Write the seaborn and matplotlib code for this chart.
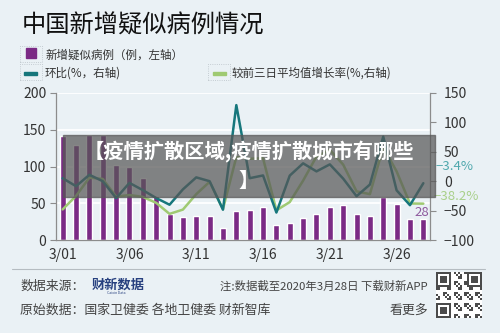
import numpy as np
import pandas as pd
import seaborn as sns
import matplotlib.pyplot as plt
from matplotlib.patches import Rectangle

# data (3/01 - 3/28)
days = ['3/%02d' % d for d in range(1, 29)]
suspected = [141, 129, 143, 143, 102, 99, 84, 60, 36, 31, 33, 33, 17, 39,
             41, 45, 21, 23, 30, 35, 45, 47, 35, 33, 58, 49, 29, 28]
ring_pct = [5, -8.5, 10.9, 0, -28.7, -2.9, -15.2, -28.6, -40, -13.9, 6.5, 0, -48.5, 129.4,
            5.1, 9.8, -53.3, 9.5, 30.4, 16.7, 28.6, 4.4, -25.5, -5.7, 75.8, -15.5, -40.8, -3.4]
avg3_pct = [-48, -25, 6, 3.9, -26.3, -23.5, -26.7, -36.8, -55.6, -48.3, -22, -1, -47.4, 41,
            38.2, 39, -49.6, -35.5, 1, 41.9, 53.4, 28.2, -17.3, -22, 58, 16.7, -37.9, -38.2]
tick_labels = ['3/01', '3/06', '3/11', '3/16', '3/21', '3/26']

bg = '#eaf1f5'
purple = '#7b2a85'
teal = '#17777c'
green = '#9fca72'
axis_grey = '#8c8c8c'

sns.set_style('white')
plt.rcParams['font.family'] = ['Noto Sans CJK SC', 'DejaVu Sans']

df = pd.DataFrame({'day': days, 'pos': range(len(days)), 'suspected': suspected,
                   'ring': ring_pct, 'avg3': avg3_pct})

fig = plt.figure(figsize=(5, 3.33), dpi=100, facecolor=bg)
ax = fig.add_axes([56 / 500, 1 - 240 / 333, 374 / 500, 147 / 333])
ax.set_facecolor(bg)

sns.barplot(data=df, x='day', y='suspected', color=purple, width=0.45,
            saturation=1, ax=ax, zorder=2)
ax.set_ylim(0, 200)
ax.set_xlim(-0.5, len(days) - 0.5)
ax.set_yticks([0, 50, 100, 150, 200])
ax.yaxis.grid(True, color='white', lw=1.3, zorder=0)
ax.set_axisbelow(True)
ax.set_xlabel('')
ax.set_ylabel('')

# labels centred on the bars, tick marks on the day boundaries
ax.set_xticks([0, 5, 10, 15, 20, 25])
ax.set_xticklabels(tick_labels)
ax.set_xticks([-0.5, 4.5, 9.5, 14.5, 19.5, 24.5], minor=True)
ax.tick_params(axis='x', which='major', length=0, pad=6, labelsize=10, labelcolor='#333333')
ax.tick_params(axis='x', which='minor', length=4, color=axis_grey, direction='out')
ax.tick_params(axis='y', length=4, color=axis_grey, labelsize=10, labelcolor='#333333', pad=3)
for s in ['top', 'right']:
    ax.spines[s].set_visible(False)
for s in ['left', 'bottom']:
    ax.spines[s].set_color(axis_grey)
    ax.spines[s].set_linewidth(0.9)

ax2 = ax.twinx()
sns.lineplot(data=df, x='pos', y='avg3', color=green, lw=1.8, ax=ax2)
sns.lineplot(data=df, x='pos', y='ring', color=teal, lw=1.8, ax=ax2)
ax2.set_ylim(-100, 150)
ax2.set_yticks([-100, -50, 0, 50, 100, 150])
ax2.set_yticklabels(['\u2212100', '\u221250', '0', '50', '100', '150'])
ax2.set_xlim(-0.5, len(days) - 0.5)
ax2.set_ylabel('')
ax2.set_xlabel('')
ax2.tick_params(axis='y', length=4, color=axis_grey, labelsize=10, labelcolor='#333333', pad=6)
for s in ['top', 'left', 'bottom']:
    ax2.spines[s].set_visible(False)
ax2.spines['right'].set_color(axis_grey)
ax2.spines['right'].set_linewidth(0.9)

# end-of-series labels
fig.text(435 / 500, 1 - 166 / 333, '\u22123.4%', color='#4fa8ad', fontsize=9.5, va='center')
fig.text(434 / 500, 1 - 197 / 333, '\u221238.2%', color='#a9d08a', fontsize=9.5, va='center')
fig.text(422 / 500, 1 - 213 / 333, '28', color='#8e5a9e', fontsize=9.5, va='center', ha='center')

# title and legend
fig.text(22 / 500, 1 - 26 / 333, '中国新增疑似病例情况', fontsize=17.5, color='#111111', va='center')
fig.patches.append(Rectangle((26 / 500, 1 - 58 / 333), 10 / 500, 10 / 333,
                             transform=fig.transFigure, color=purple))
fig.patches.append(Rectangle((24 / 500, 1 - 74.5 / 333), 13 / 500, 3 / 333,
                             transform=fig.transFigure, color=teal))
fig.patches.append(Rectangle((213 / 500, 1 - 74.5 / 333), 13 / 500, 3 / 333,
                             transform=fig.transFigure, color=green))
for x0, y0 in [(20, 46), (20, 64), (208, 64)]:
    fig.patches.append(Rectangle((x0 / 500, 1 - (y0 + 16) / 333), 22 / 500, 16 / 333,
                                 transform=fig.transFigure, fill=False,
                                 edgecolor='#b8c0c6', lw=0.6, ls=':'))
fig.text(45 / 500, 1 - 55 / 333, '新增疑似病例（例，左轴）', fontsize=8.3, color='#333333', va='center')
fig.text(45 / 500, 1 - 73 / 333, '环比(%，右轴)', fontsize=8.3, color='#333333', va='center')
fig.text(232 / 500, 1 - 73 / 333, '较前三日平均值增长率(%,右轴)', fontsize=8.3, color='#333333', va='center')

# grey banner over the chart
fig.patches.append(Rectangle((63 / 500, 1 - 197 / 333), 372 / 500, 62 / 333,
                             transform=fig.transFigure, color='#575757', alpha=0.72, zorder=5))
fig.text(249 / 500, 1 - 166 / 333, '【疫情扩散区域,疫情扩散城市有哪些\n】', fontsize=14.6,
         fontweight='bold', color='white', ha='center', va='center', linespacing=1.4, zorder=6)

# footer
fig.lines.append(plt.Line2D([12 / 500, 485 / 500], [1 - 269 / 333] * 2,
                            transform=fig.transFigure, color='#b5bcc1', lw=0.8))
fig.text(20 / 500, 1 - 286 / 333, '数据来源：', fontsize=9.3, color='#444444', va='center')
fig.text(92 / 500, 1 - 285 / 333, '财新数据', fontsize=9.5, fontweight='bold', color='#27407f', va='center')
fig.text(116 / 500, 1 - 293.5 / 333, 'Caixin Data', fontsize=2.5, color='#27407f', va='center', ha='center')
fig.text(428 / 500, 1 - 286 / 333, '注:数据截至2020年3月28日 下载财新APP', fontsize=8.2,
         color='#444444', va='center', ha='right')
fig.text(20 / 500, 1 - 310 / 333, '原始数据：国家卫健委 各地卫健委 财新智库', fontsize=9.3,
         color='#444444', va='center')
fig.text(428 / 500, 1 - 310 / 333, '看更多', fontsize=9.3, color='#444444', va='center', ha='right')

# QR-code-like placeholder
qr_ax = fig.add_axes([435 / 500, 1 - 318 / 333, 47 / 500, 46 / 333])
n = 21
ii, jj = np.meshgrid(np.arange(n), np.arange(n))
qr = (((ii * 7 + jj * 3 + ii * jj) % 5) < 2).astype(float)
for r, c in [(0, 0), (0, n - 7), (n - 7, 0)]:
    qr[r:r + 7, c:c + 7] = 1
    qr[r + 1:r + 6, c + 1:c + 6] = 0
    qr[r + 2:r + 5, c + 2:c + 5] = 1
qr_ax.imshow(qr, cmap='Greys', interpolation='nearest', vmin=0, vmax=1.3)
qr_ax.axis('off')

fig.savefig('out.png', dpi=100, facecolor=bg)
